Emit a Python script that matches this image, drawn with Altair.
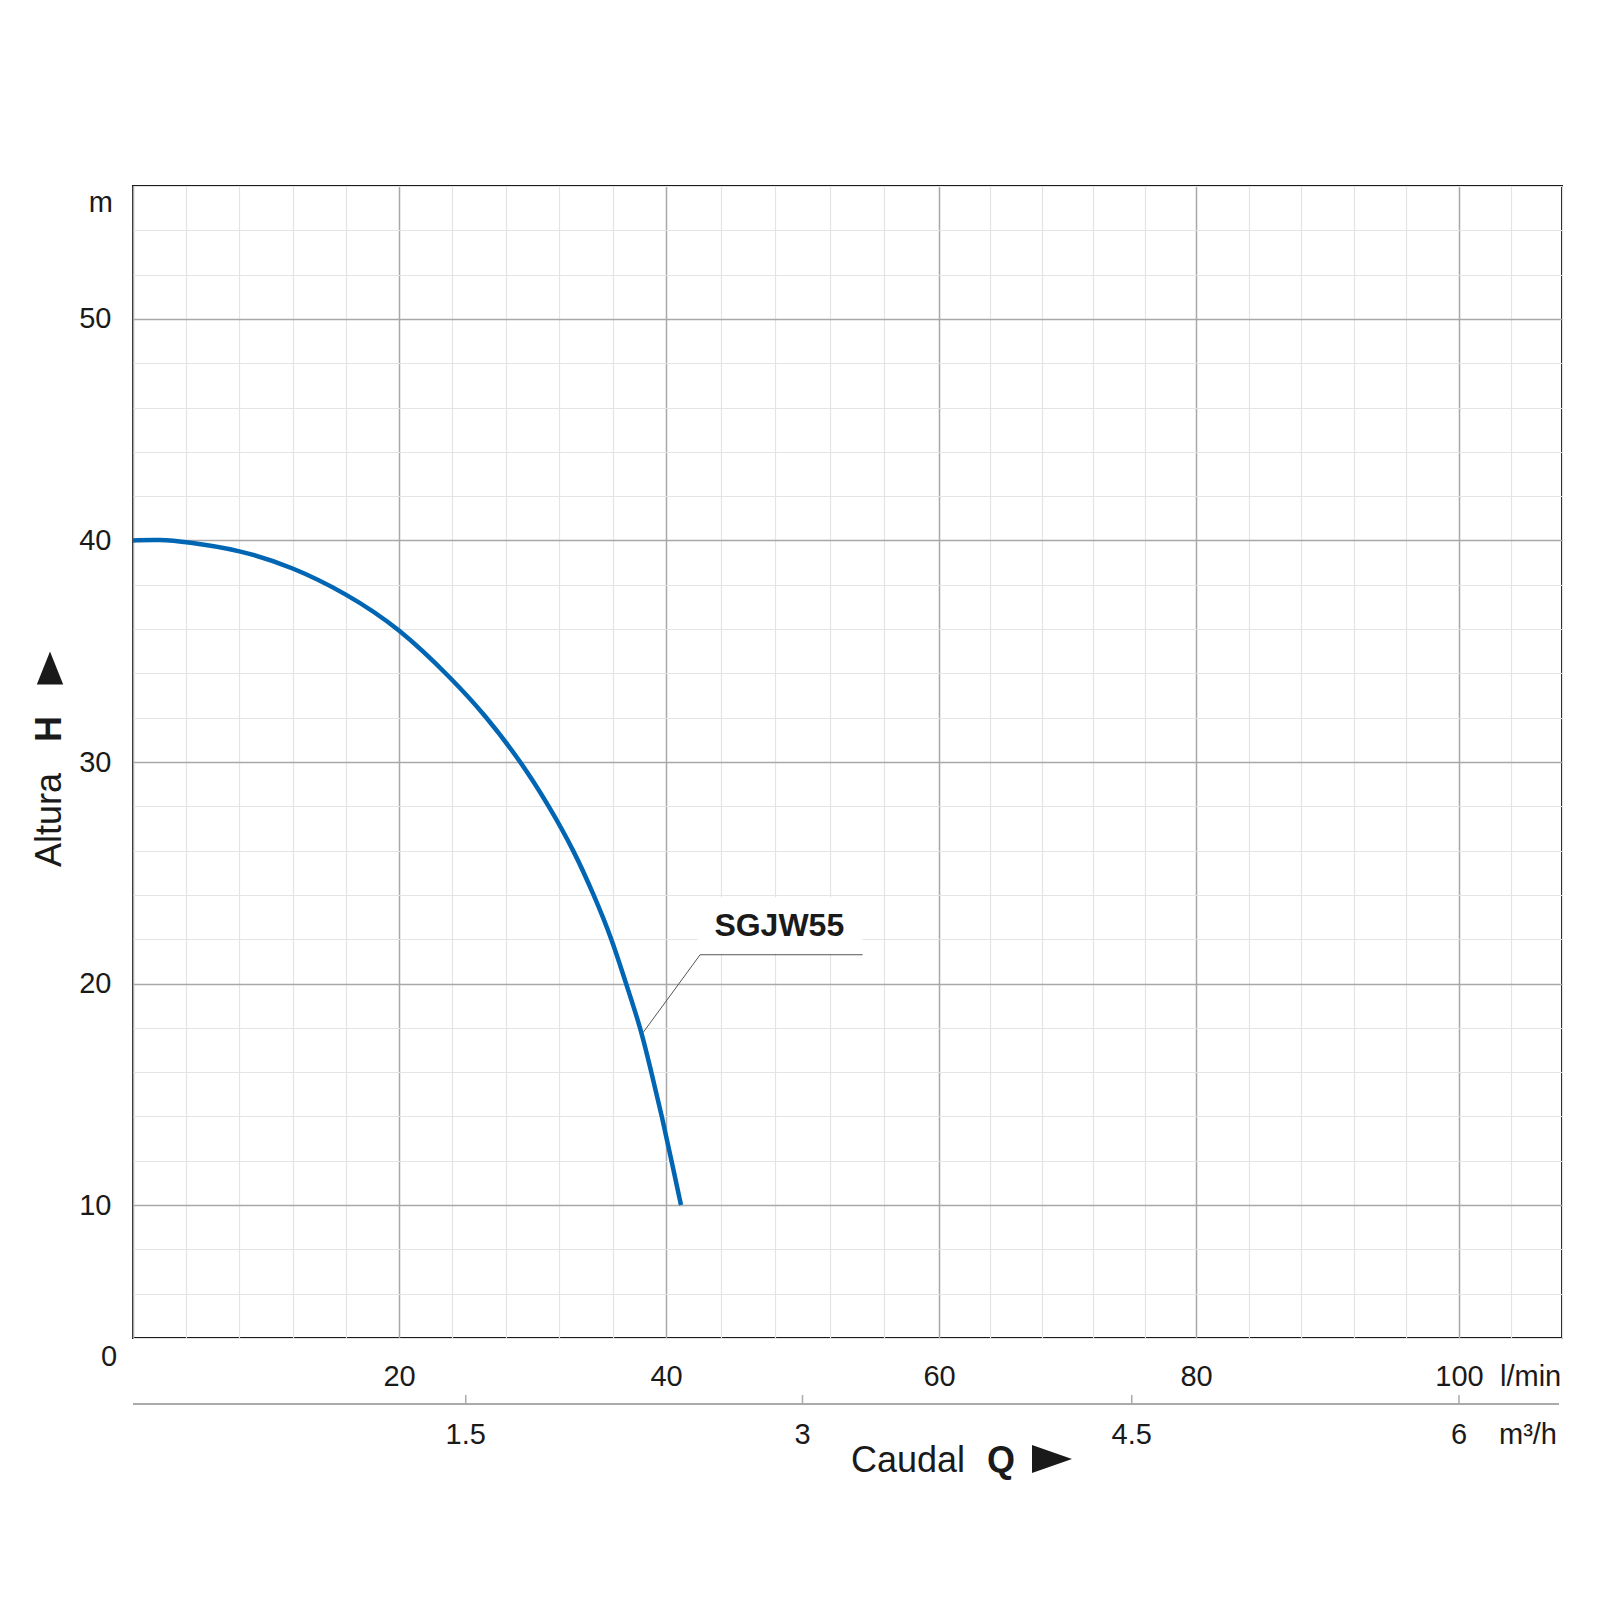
import altair as alt
import pandas as pd

# ---- data ----
flow_lmin = [0, 2, 4, 8, 12, 16, 20, 24.1, 26.4, 29.1, 31.25, 33.1, 34.6, 35.95, 37.0, 38.1, 38.9, 39.7, 40.4, 41.1]
head_m = [40, 40.05, 39.94, 39.58, 38.8, 37.62, 36.06, 33.67, 32.15, 30.05, 28, 26, 24, 22, 20, 18, 16, 14, 12, 10]
series_name = "SGJW55"

x_grid = [0, 4, 8, 12, 16, 20, 24, 28, 32, 36, 40, 44, 48, 52, 56, 60, 64, 68, 72, 76, 80, 84, 88, 92, 96, 100, 104, 108]
y_grid = [4, 6, 8, 10, 12, 14, 16, 18, 20, 22, 24, 26, 28, 30, 32, 34, 36, 38, 40, 42, 44, 46, 48, 50, 52, 54, 56]
m3h_ticks = [1.5, 3, 4.5, 6]
m3h_labels = ["1.5", "3", "4.5", "6"]

# annotation (data coordinates)
leader_q = [38.3, 42.5, 54.4]
leader_h = [17.8, 21.3, 21.3]
label_q, label_h = 48.3, 22.6
box_q = [42.3, 54.4]
box_h = [21.35, 23.9]

FONT = "Liberation Sans"
INK = "#1a1a1a"
BLUE = "#0066b3"

curve_df = pd.DataFrame({"Q": flow_lmin, "H": head_m})

# the printed grid of the reference is slightly uneven: piecewise-linear x scale
xs = alt.Scale(domain=[0, 20, 40, 60, 80, 100, 108],
               range=[0, 266, 533, 806, 1063, 1326, 1429], nice=False, zero=False)
ys = alt.Scale(domain=[4, 56], nice=False, zero=False)

x_axis = alt.Axis(
    values=x_grid, title=None, ticks=False, domain=False,
    labelExpr="datum.value % 20 === 0 && datum.value > 0 ? datum.label : ''",
    labelFont=FONT, labelFontSize=29, labelColor=INK, labelPadding=24,
    labelOverlap=False, labelFlush=False,
    grid=True,
    gridColor=alt.condition("datum.value % 20 === 0", alt.value("#a8a8a8"), alt.value("#e4e4e4")),
    gridWidth=alt.condition("datum.value % 20 === 0", alt.value(1.5), alt.value(1.2)),
)
y_axis = alt.Axis(
    values=y_grid, title=None, ticks=False, domain=False,
    labelExpr="datum.value % 10 === 0 ? datum.label : ''",
    labelFont=FONT, labelFontSize=29, labelColor=INK, labelPadding=22,
    labelOverlap=False, labelFlush=False, labelBaseline="middle",
    grid=True,
    gridColor=alt.condition("datum.value % 10 === 0", alt.value("#a8a8a8"), alt.value("#e4e4e4")),
    gridWidth=alt.condition("datum.value % 10 === 0", alt.value(1.5), alt.value(1.2)),
)

curve = alt.Chart(curve_df).mark_line(
    color=BLUE, strokeWidth=4.5, interpolate="basis"
).encode(
    x=alt.X("Q:Q", scale=xs, axis=x_axis),
    y=alt.Y("H:Q", scale=ys, axis=y_axis),
)

box = alt.Chart(pd.DataFrame({"Q": [box_q[0]], "Q2": [box_q[1]], "H": [box_h[0]], "H2": [box_h[1]]})).mark_rect(
    color="white"
).encode(
    x=alt.X("Q:Q", scale=xs, axis=x_axis), x2="Q2:Q",
    y=alt.Y("H:Q", scale=ys, axis=y_axis), y2="H2:Q",
)

leader = alt.Chart(pd.DataFrame({"Q": leader_q, "H": leader_h, "o": [0, 1, 2]})).mark_line(
    color="#555555", strokeWidth=1
).encode(
    x=alt.X("Q:Q", scale=xs, axis=x_axis),
    y=alt.Y("H:Q", scale=ys, axis=y_axis),
    order="o:O",
)

label = alt.Chart(pd.DataFrame({"Q": [label_q], "H": [label_h], "t": [series_name]})).mark_text(
    font=FONT, fontSize=32, fontWeight="bold", color=INK, baseline="middle", align="center"
).encode(
    x=alt.X("Q:Q", scale=xs, axis=x_axis),
    y=alt.Y("H:Q", scale=ys, axis=y_axis),
    text="t:N",
)

# secondary (m3/h) axis drawn with marks through the l/min scale
m3h_df = pd.DataFrame({"m3h": m3h_ticks, "lab": m3h_labels})
m3h_df["Q"] = m3h_df["m3h"] * 1000 / 60

sec_line = alt.Chart(pd.DataFrame({"a": [0]})).mark_rule(color="#aaaaaa", strokeWidth=2).encode(
    x=alt.value(0), x2=alt.value(1426), y=alt.value(1218)
)
sec_ticks = alt.Chart(m3h_df).mark_rule(color="#aaaaaa", strokeWidth=1.5).encode(
    x=alt.X("Q:Q", scale=xs, axis=x_axis), y=alt.value(1209), y2=alt.value(1218)
)
sec_labels = alt.Chart(m3h_df).mark_text(
    font=FONT, fontSize=29, color=INK, baseline="alphabetic", align="center"
).encode(
    x=alt.X("Q:Q", scale=xs, axis=x_axis), y=alt.value(1258), text="lab:N"
)


def txt(t, x, y, size=29, weight="normal", align="left", baseline="alphabetic", angle=0):
    return alt.Chart(pd.DataFrame({"t": [t]})).mark_text(
        font=FONT, fontSize=size, fontWeight=weight, color=INK,
        align=align, baseline=baseline, angle=angle
    ).encode(x=alt.value(x), y=alt.value(y), text="t:N")


def tri(path, x, y, size):
    return alt.Chart(pd.DataFrame({"a": [0]})).mark_point(
        shape=path, filled=True, color=INK, opacity=1, size=size, strokeWidth=0
    ).encode(x=alt.value(x), y=alt.value(y))


units = [
    txt("l/min", 1367, 1200),
    txt("m³/h", 1366, 1258),
    txt("m", -20, 26, align="right"),
    txt("0", -24, 1171, align="center", baseline="middle"),
    txt("Caudal", 775, 1286, size=36, align="center"),
    txt("Q", 868, 1286, size=36, weight="bold", align="center"),
    tri("M -1 -0.7 L 1 0 L -1 0.7 Z", 919, 1273, 1600),
    txt("Altura", -83, 634, size=36, align="center", baseline="middle", angle=270),
    txt("H", -83, 543, size=36, weight="bold", align="center", baseline="middle", angle=270),
    tri("M -0.8 1 L 0 -1 L 0.8 1 Z", -83, 482, 1089),
]

chart = alt.layer(
    curve, box, leader, label, sec_line, sec_ticks, sec_labels, *units
).properties(
    width=1429, height=1152,
    autosize=alt.AutoSizeParams(type="none"),
    padding={"left": 125, "top": 178, "right": 30, "bottom": 250},
    background="white",
).configure_view(
    stroke=INK, strokeWidth=2
)

chart.save("out.html", embed_options={"renderer": "svg", "actions": False})
